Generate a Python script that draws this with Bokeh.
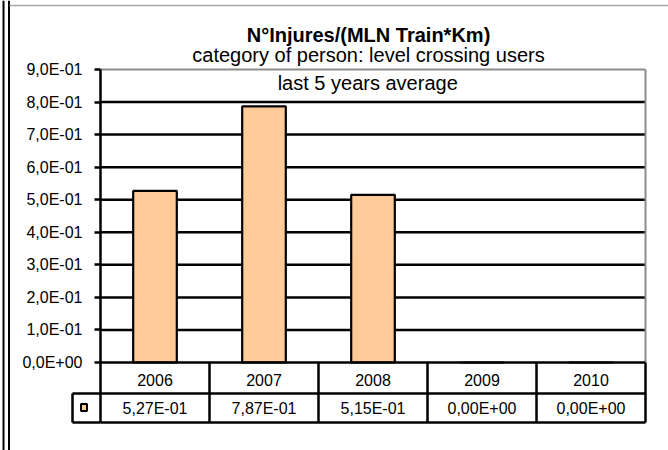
from bokeh.plotting import figure
from bokeh.models import FixedTicker, LinearAxis, Range1d, ColumnDataSource
from bokeh.embed import file_html
from bokeh.resources import INLINE
from bokeh.core.properties import value

# ---------------- data ----------------
years = ["2006", "2007", "2008", "2009", "2010"]
injuries = [0.527, 0.787, 0.515, 0.0, 0.0]
value_labels = ["5,27E-01", "7,87E-01", "5,15E-01", "0,00E+00", "0,00E+00"]
y_ticks = [0.0, 0.1, 0.2, 0.3, 0.4, 0.5, 0.6, 0.7, 0.8, 0.9]
y_tick_labels = ["0,0E+00", "1,0E-01", "2,0E-01", "3,0E-01", "4,0E-01",
                 "5,0E-01", "6,0E-01", "7,0E-01", "8,0E-01", "9,0E-01"]
title_lines = ["N°Injures/(MLN Train*Km)",
               "category of person: level crossing users",
               "last 5 years  average"]

# ---------------- geometry (page pixels) ----------------
W, H = 668, 450
PX_LEFT = 100
PX_Y0, PX_YTOP = 362, 69
PX_ROW_MID, PX_TABLE_BOT = 393, 422
PX_KEY_LEFT = 72
PPU_X = 109.0
PPU_Y = (PX_Y0 - PX_YTOP) / y_ticks[-1]

def dx(px):
    return (px - PX_LEFT) / PPU_X - 0.5

def dy(py):
    return (PX_Y0 - py) / PPU_Y

ymax = y_ticks[-1]
y_mid = dy(PX_ROW_MID)
y_bot = dy(PX_TABLE_BOT)
x_lo, x_hi = -0.5, len(years) - 0.5

FONT = value("Liberation Sans")
PEACH = "#FFCC99"
GRAY = "#8c8c8c"

p = figure(width=W, height=H,
           x_range=Range1d(dx(0), dx(W)),
           y_range=Range1d(dy(H), dy(0)),
           min_border_left=0, min_border_right=0,
           min_border_top=0, min_border_bottom=0,
           x_axis_location=None, y_axis_location=None,
           toolbar_location=None, output_backend="svg")
p.outline_line_color = None
p.background_fill_color = "white"
p.border_fill_color = "white"
p.grid.visible = False

# y axis, drawn at the plot's left edge inside the frame
ax = LinearAxis(fixed_location=x_lo, ticker=FixedTicker(ticks=y_ticks))
ax.major_label_overrides = dict(zip(y_ticks, y_tick_labels))
ax.axis_line_color = None
ax.major_tick_line_color = "black"
ax.major_tick_line_width = 2.5
ax.major_tick_out = 6
ax.major_tick_in = 0
ax.minor_tick_line_color = None
ax.major_label_standoff = 12
ax.major_label_text_font = "Liberation Sans"
ax.major_label_text_font_size = "16px"
ax.major_label_text_color = "black"
p.add_layout(ax, "left")

# outer decoration
p.segment(x0=[dx(3), dx(8.5)], x1=[dx(3), dx(8.5)], y0=[dy(0)] * 2, y1=[dy(H)] * 2,
          line_color="black", line_width=2)
p.segment(x0=[dx(9)], x1=[dx(W)], y0=[dy(5)], y1=[dy(5)], line_color="#a8a8a8", line_width=1.5)

# gridlines 0.1..0.8
grid_y = y_ticks[1:-1]
p.segment(x0=[x_lo] * len(grid_y), x1=[x_hi] * len(grid_y), y0=grid_y, y1=grid_y,
          line_color="black", line_width=2.5)

# plot border (gray) top and right
p.segment(x0=[x_lo], x1=[x_hi], y0=[ymax], y1=[ymax], line_color=GRAY, line_width=2)
p.segment(x0=[x_hi], x1=[x_hi], y0=[0], y1=[ymax], line_color=GRAY, line_width=2)

# bars
src = ColumnDataSource(dict(x=list(range(len(years))), top=injuries))
p.vbar(x="x", top="top", width=0.4, source=src, fill_color=PEACH,
       line_color="black", line_width=2.2)

# left axis line (plot + table)
p.segment(x0=[x_lo], x1=[x_lo], y0=[y_bot], y1=[ymax], line_color="black", line_width=2.5)

# table lines
p.segment(x0=[x_lo] * 3, x1=[x_hi] * 3, y0=[0, y_mid, y_bot], y1=[0, y_mid, y_bot],
          line_color="black", line_width=2.5)
seps = [i + 0.5 for i in range(len(years))]
p.segment(x0=seps, x1=seps, y0=[y_bot] * len(seps), y1=[0] * len(seps),
          line_color="black", line_width=2.5)

# legend key cell
kx = dx(PX_KEY_LEFT)
p.segment(x0=[kx, kx, kx], x1=[x_lo, x_lo, kx], y0=[y_mid, y_bot, y_mid], y1=[y_mid, y_bot, y_bot],
          line_color="black", line_width=2.5)
p.quad(left=[dx(80.5)], right=[dx(86.5)], top=[dy(403.5)], bottom=[dy(410.5)],
       fill_color=PEACH, line_color="black", line_width=2)

# table text
ncat = len(years)
p.text(x=list(range(ncat)), y=[dy(379)] * ncat, text=years,
       text_font=FONT, text_font_size="16px", text_align="center",
       text_baseline="middle", text_color="black")
p.text(x=list(range(ncat)), y=[dy(408)] * ncat, text=value_labels,
       text_font=FONT, text_font_size="16px", text_align="center",
       text_baseline="middle", text_color="black")

# titles
title_x = [dx(368), dx(368), dx(370)]
title_y = [dy(34.5), dy(54), dy(82)]
p.text(x=title_x[:1], y=title_y[:1], text=title_lines[:1], text_font=FONT,
       text_font_size="20px", text_font_style="bold", text_align="center",
       text_baseline="alphabetic", text_color="black")
p.text(x=title_x[1:], y=title_y[1:], text=title_lines[1:], text_font=FONT,
       text_font_size="20px", text_align="center",
       text_baseline="alphabetic", text_color="black")

open("out.html", "w").write(file_html(p, INLINE))
